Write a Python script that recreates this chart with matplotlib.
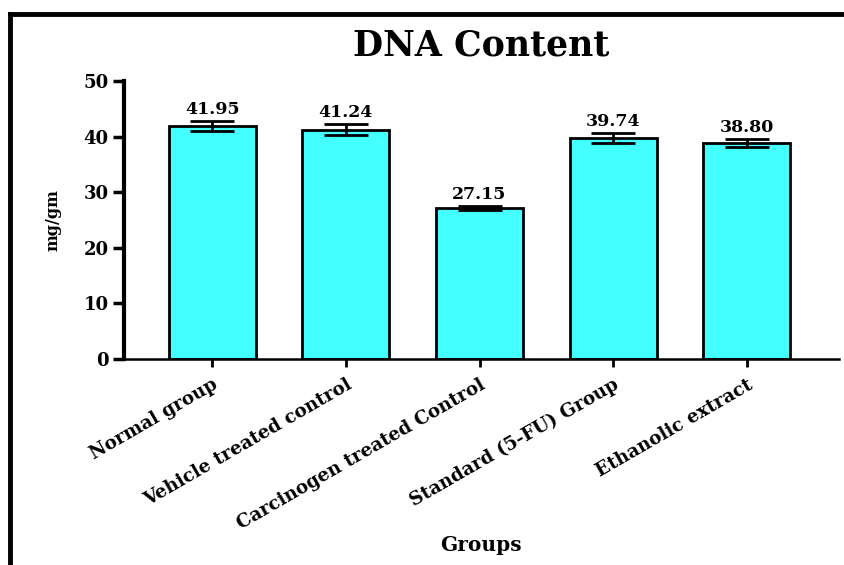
import numpy as np
import matplotlib.pyplot as plt
from matplotlib.lines import Line2D

plt.rcParams['font.family'] = ['DejaVu Serif']
plt.rcParams['font.weight'] = 'bold'

groups = ["Normal group", "Vehicle treated control", "Carcinogen treated Control",
          "Standard (5-FU) Group", "Ethanolic extract"]
dna_mean = [41.95, 41.24, 27.15, 39.74, 38.80]
dna_sem = [0.85, 1.0, 0.35, 0.85, 0.7]
value_labels = ["41.95", "41.24", "27.15", "39.74", "38.80"]

fig = plt.figure(figsize=(8.45, 5.65), dpi=100)
ax = fig.add_axes([0.1467, 0.3646, 0.8463, 0.492])

x = np.arange(len(groups))
ax.bar(x, dna_mean, width=0.65, color='#44FFFF', edgecolor='black', linewidth=2, zorder=2)
ax.errorbar(x, dna_mean, yerr=dna_sem, fmt='none', ecolor='black',
            elinewidth=2, capsize=15.5, capthick=2, zorder=3)

# mean values printed above the error bars
for xi, m, s, lab in zip(x, dna_mean, dna_sem, value_labels):
    ax.text(xi, m + s + 0.6, lab, ha='center', va='bottom',
            fontsize=12.5, fontweight='bold')

ax.set_xlim(-0.66, 4.69)
ax.set_ylim(0, 50)
ax.set_yticks([0, 10, 20, 30, 40, 50])
ax.set_xticks(x)
ax.set_xticklabels(groups, rotation=30, ha='right', va='top', rotation_mode='anchor',
                   fontsize=13.2, fontweight='bold')
ax.tick_params(axis='y', labelsize=13, width=2.5, length=8, pad=3)
ax.tick_params(axis='x', width=2, length=6, pad=6)
for t in ax.get_yticklabels():
    t.set_fontweight('bold')

ax.spines['top'].set_visible(False)
ax.spines['right'].set_visible(False)
ax.spines['left'].set_linewidth(3)
ax.spines['bottom'].set_linewidth(1.8)

fig.text(0.063, 0.611, "mg/gm", rotation=90, ha='center', va='center',
         fontsize=11.5, fontweight='bold')
fig.text(0.569, 0.920, "DNA Content", ha='center', va='center',
         fontsize=25, fontweight='bold')
fig.text(0.569, 0.035, "Groups", ha='center', va='center', fontsize=14.5, fontweight='bold')

# outer frame lines (top and left)
fig.add_artist(Line2D([0.0118, 1.0], [0.9745, 0.9745], color='black', linewidth=3.5,
                      transform=fig.transFigure))
fig.add_artist(Line2D([0.0118, 0.0118], [0.0, 0.9745], color='black', linewidth=3.5,
                      transform=fig.transFigure))

fig.savefig("out.png", dpi=100)
